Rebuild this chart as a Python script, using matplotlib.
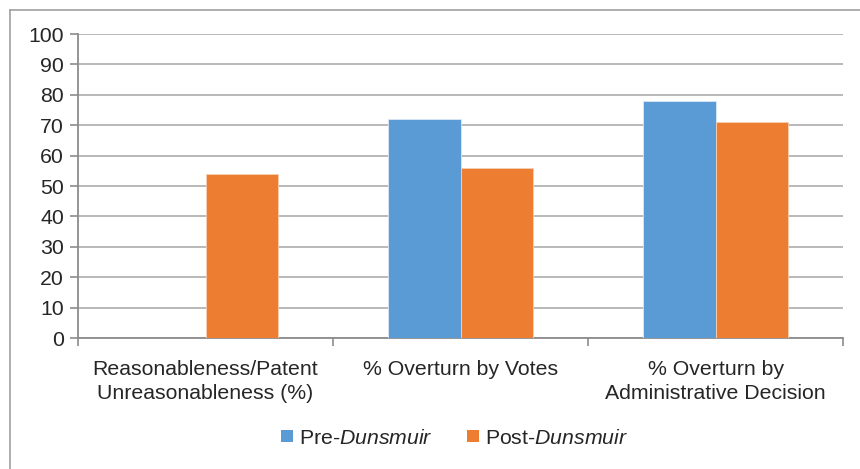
import numpy as np
import matplotlib.pyplot as plt
from matplotlib.patches import Patch
from matplotlib.lines import Line2D

plt.rcParams['font.family'] = ['Liberation Sans', 'DejaVu Sans']
plt.rcParams['mathtext.fontset'] = 'custom'
plt.rcParams['mathtext.rm'] = 'Liberation Sans'
plt.rcParams['mathtext.it'] = 'Liberation Sans:italic'

categories = ["Reasonableness/Patent\nUnreasonableness (%)",
              "% Overturn by Votes",
              "% Overturn by\nAdministrative Decision"]
pre_values = [np.nan, 72, 78]
post_values = [54, 56, 71]
series_names = ["Pre-$\\it{Dunsmuir}$", "Post-$\\it{Dunsmuir}$"]
y_ticks = list(range(0, 101, 10))

blue = "#5B9BD5"
orange = "#ED7D31"
fs = 15.3

fig = plt.figure(figsize=(8.6, 4.69), dpi=100)
ax = fig.add_axes([78 / 860, 1 - 338 / 469, (843 - 78) / 860, (338 - 34) / 469])

x = np.arange(len(categories))
w = 0.286
ax.bar(x - w / 2, pre_values, w, color=blue, edgecolor="#dbe8f5", linewidth=0.6, zorder=3)
ax.bar(x + w / 2, post_values, w, color=orange, edgecolor="#f7cfb3", linewidth=0.6, zorder=3)

ax.set_xlim(-0.5, len(categories) - 0.5)
ax.set_ylim(0, 100)
ax.set_yticks(y_ticks)
ax.yaxis.grid(True, color="#b3b3b3", linewidth=1.3, zorder=0)
ax.set_axisbelow(True)

# category boundaries get the tick marks, labels sit in the middle
ax.set_xticks(np.arange(len(categories) + 1) - 0.5)
ax.set_xticklabels([])
ax.set_xticks(x, minor=True)
ax.set_xticklabels(categories, minor=True, fontsize=fs, color="#262626", linespacing=1.38)
ax.tick_params(axis="x", which="major", length=6, color="#8c8c8c", width=1.2)
ax.tick_params(axis="x", which="minor", length=0, pad=15.5)
ax.tick_params(axis="y", length=6, color="#8c8c8c", width=1.2, labelsize=fs,
               labelcolor="#262626", pad=4)

for s in ["top", "right"]:
    ax.spines[s].set_visible(False)
for s in ["left", "bottom"]:
    ax.spines[s].set_color("#8c8c8c")
    ax.spines[s].set_linewidth(1.3)

handles = [Patch(facecolor=blue), Patch(facecolor=orange)]
fig.legend(handles, series_names, loc="center", bbox_to_anchor=(0.529, 1 - 438 / 469),
           ncol=2, frameon=False, fontsize=fs, handlelength=0.55, handleheight=0.55,
           handletextpad=0.3, columnspacing=1.6, labelcolor="#262626")

# outer frame of the chart (only top and left visible in the crop)
fig.add_artist(Line2D([9.5 / 860, 9.5 / 860], [0, 1 - 10 / 469], color="#a0a0a0", lw=1.2))
fig.add_artist(Line2D([9.5 / 860, 1], [1 - 10 / 469, 1 - 10 / 469], color="#a0a0a0", lw=1.2))

fig.savefig("out.png", dpi=100)
